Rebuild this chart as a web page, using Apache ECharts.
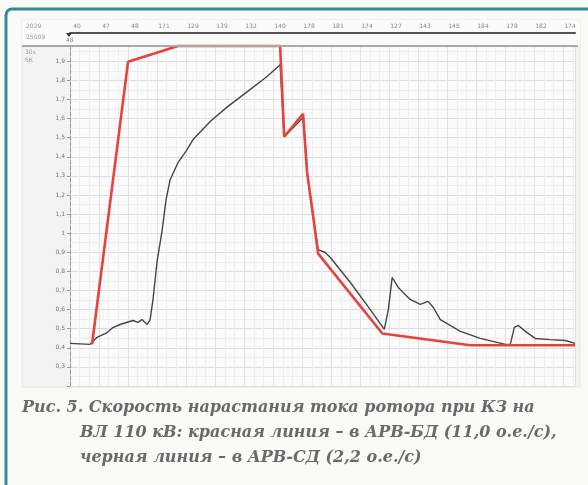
<!DOCTYPE html>
<html>
<head>
<meta charset="utf-8">
<script src="https://cdn.jsdelivr.net/npm/echarts@6/dist/echarts.min.js"></script>
<style>
  html, body { margin: 0; padding: 0; background: #fafaf8; }
  #chart { width: 588px; height: 485px; }
</style>
</head>
<body>
<div id="chart"></div>
<script>
// время, мс (1 деление верхней шкалы = 10 мс)
var blackT = [0, 6.9, 9.3, 12.8, 14.8, 17.2, 21.7, 23.4, 24.8, 26.6, 27.6, 28.6, 30.0, 31.7, 33.1, 34.5, 37.2,
  40.0, 42.4, 48.3, 54.1, 61.0, 67.9, 72.4, 73.8, 75.2, 80.3, 81.7, 83.8, 85.5, 87.9, 89.7, 96.6, 103.4,
  108.3, 109.7, 111.0, 113.1, 117.2, 120.7, 123.4, 125.2, 127.6, 134.5, 141.4, 150.0, 151.7, 153.1,
  154.5, 156.9, 160.3, 165.5, 170.7, 174];
var blackV = [0.423, 0.418, 0.454, 0.48, 0.506, 0.522, 0.543, 0.533, 0.548, 0.522, 0.548, 0.653, 0.852, 1.009, 1.176, 1.28, 1.369,
  1.43, 1.49, 1.585, 1.66, 1.74, 1.82, 1.882, 1.505, 1.526, 1.605, 1.317, 1.087, 0.914, 0.899, 0.873, 0.742, 0.601,
  0.496, 0.601, 0.768, 0.716, 0.653, 0.627, 0.643, 0.611, 0.548, 0.486, 0.449, 0.418, 0.418, 0.507,
  0.517, 0.486, 0.449, 0.443, 0.438, 0.423];

var redT = [7.6, 20.0, 37.2, 72.4, 73.8, 80.3, 81.7, 83.8, 85.5, 107.6, 137.9, 174];
var redV = [0.418, 1.897, 1.98, 1.98, 1.505, 1.625, 1.317, 1.087, 0.893, 0.475, 0.413, 0.413];

var topLabels = ['40', '47', '48', '171', '129', '139', '132', '140', '178', '181', '174', '127', '143', '145', '184', '178', '182', '174'];
var yTickLabels = ['0,3', '0,4', '0,5', '0,6', '0,7', '0,8', '0,9', '1', '1,1', '1,2', '1,3', '1,4', '1,5', '1,6', '1,7', '1,8', '1,9'];

var captionLines = [
  'Рис. 5. Скорость нарастания тока ротора при КЗ на',
  'ВЛ 110 кВ: красная линия – в АРВ-БД (11,0 о.е./с),',
  'черная линия – в АРВ-СД (2,2 о.е./с)'
];

function zipPts(t, v) {
  return t.map(function (x, i) { return [x, v[i]]; });
}

var chart = echarts.init(document.getElementById('chart'), null, { renderer: 'canvas' });

var smallFont = 'DejaVu Sans';
var capFont = 'bold italic 16px "DejaVu Serif"';

var option = {
  backgroundColor: '#fafaf8',
  animation: false,
  grid: [
    { left: 70, top: 46, width: 505, height: 340, show: true, backgroundColor: '#fbfbfb', borderWidth: 0 },
    { left: 77, top: 32, width: 493, height: 1, show: false }
  ],
  xAxis: [
    {
      type: 'value', gridIndex: 0, min: 0, max: 174, interval: 10,
      axisLine: { show: false }, axisTick: { show: false }, axisLabel: { show: false },
      splitLine: { show: true, lineStyle: { color: '#e2e2e2', width: 1 } },
      minorTick: { show: false, splitNumber: 3 },
      minorSplitLine: { show: true, lineStyle: { color: '#efefef', width: 1 } }
    },
    {
      type: 'value', gridIndex: 0, position: 'top', offset: 13, min: 0, max: 174,
      axisLine: { show: true, lineStyle: { color: '#555', width: 2 } },
      axisTick: { show: false }, axisLabel: { show: false }, splitLine: { show: false }
    },
    {
      type: 'category', gridIndex: 1, position: 'top', boundaryGap: false, data: topLabels,
      axisLine: { show: false },
      axisTick: { show: false },
      axisLabel: { show: true, interval: 0, fontSize: 6, color: '#888', margin: 3, fontFamily: smallFont }
    }
  ],
  yAxis: [
    {
      type: 'value', gridIndex: 0, min: 0.2, max: 1.98, interval: 0.1,
      axisLine: { show: true, lineStyle: { color: '#999', type: 'dashed', width: 1 } },
      axisTick: { show: true, inside: false, length: 3, lineStyle: { color: '#999' } },
      axisLabel: {
        fontSize: 6, color: '#777', margin: 5, fontFamily: smallFont,
        formatter: function (v) {
          var i = Math.round((v - 0.3) * 10);
          if (Math.abs(v - (0.3 + i * 0.1)) > 0.001) return '';
          return yTickLabels[i] || '';
        }
      },
      splitLine: { show: true, lineStyle: { color: '#dcdcdc', width: 1 } },
      minorSplitLine: { show: true, lineStyle: { color: '#eeeeee', width: 1 } },
      minorTick: { show: false, splitNumber: 2 }
    },
    { type: 'value', gridIndex: 1, show: false }
  ],
  graphic: [
    // фон скриншота
    { type: 'rect', z: -10, silent: true, shape: { x: 22, y: 20, width: 558, height: 367 },
      style: { fill: '#f3f3f3', stroke: '#e4e4e4', lineWidth: 1 } },
    { type: 'rect', z: -9, silent: true, shape: { x: 22, y: 20, width: 558, height: 25 },
      style: { fill: '#fbfbfb' } },
    // верхняя серая линия над полем графика
    { type: 'line', z: 5, silent: true, shape: { x1: 22, y1: 46, x2: 578, y2: 46 },
      style: { stroke: '#a9a9a9', lineWidth: 2 } },
    // рамка
    { type: 'rect', z: 20, silent: true, shape: { x: 6, y: 9, width: 600, height: 500, r: 6 },
      style: { fill: null, stroke: '#348b94', lineWidth: 3 } },
    // маркер начала
    { type: 'polygon', z: 20, silent: true, shape: { points: [[66, 33], [72, 33], [69, 37]] },
      style: { fill: '#333' } },
    { type: 'text', z: 20, left: 66, top: 37, silent: true,
      style: { text: '48', font: '6px "DejaVu Sans"', fill: '#888' } },
    { type: 'text', z: 20, left: 26, top: 23, silent: true,
      style: { text: '2029', font: '6px "DejaVu Sans"', fill: '#999' } },
    { type: 'text', z: 20, left: 26, top: 34, silent: true,
      style: { text: '25009', font: '6px "DejaVu Sans"', fill: '#999' } },
    { type: 'text', z: 20, left: 25, top: 49, silent: true,
      style: { text: '30s', font: '6px "DejaVu Sans"', fill: '#999' } },
    { type: 'text', z: 20, left: 25, top: 57, silent: true,
      style: { text: '5К', font: '6px "DejaVu Sans"', fill: '#999' } },
    // подпись
    { type: 'text', z: 20, left: 22, top: 400, silent: true,
      style: { text: captionLines[0], font: capFont, fill: '#6a6a6a' } },
    { type: 'text', z: 20, left: 80, top: 425, silent: true,
      style: { text: captionLines[1], font: capFont, fill: '#6a6a6a' } },
    { type: 'text', z: 20, left: 80, top: 450, silent: true,
      style: { text: captionLines[2], font: capFont, fill: '#6a6a6a' } }
  ],
  series: [
    {
      name: 'АРВ-СД', type: 'line', xAxisIndex: 0, yAxisIndex: 0, z: 3,
      data: zipPts(blackT, blackV), showSymbol: false, smooth: false,
      lineStyle: { color: '#454545', width: 1.4 }
    },
    {
      name: 'АРВ-БД', type: 'line', xAxisIndex: 0, yAxisIndex: 0, z: 4,
      data: zipPts(redT, redV), showSymbol: false, smooth: false, clip: false,
      lineStyle: { color: '#e5433b', width: 2.6 }
    }
  ]
};

chart.setOption(option);
</script>
</body>
</html>
